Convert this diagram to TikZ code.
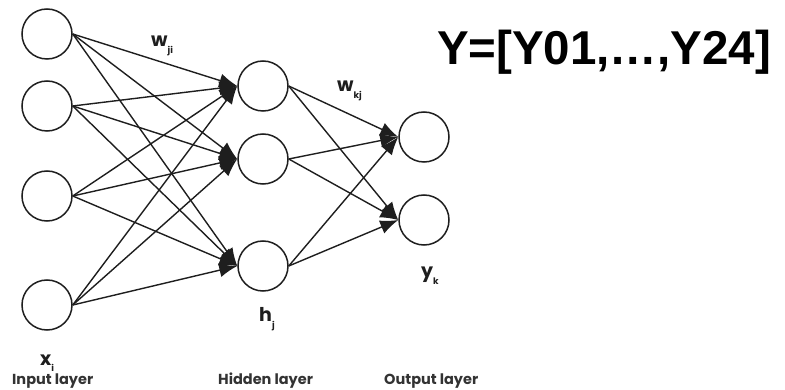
\documentclass[tikz,border=0pt]{standalone}
\usepackage{fontspec}
\setmainfont{Liberation Sans}
\newfontfamily\popfont{Poppins}
\usetikzlibrary{arrows.meta}
\definecolor{ink}{HTML}{1E1E1E}
\definecolor{labgray}{HTML}{333333}
\newcommand{\varlab}[2]{#1\raisebox{-0.32em}{\fontsize{9}{10}\selectfont #2}}
\begin{document}
\begin{tikzpicture}[x=1pt,y=-1pt,
  neuron/.style={circle,draw=ink,line width=1.5pt,minimum size=50pt,inner sep=0pt,fill=white},
  conn/.style={draw=ink,line width=1.4pt,-{Latex[length=18pt,width=14pt]}},
  varlabel/.style={anchor=base west,inner sep=0pt,text=ink,font=\popfont\bfseries\fontsize{19}{21}\selectfont},
  layerlabel/.style={anchor=base west,inner sep=0pt,text=labgray,font=\popfont\bfseries\fontsize{14.5}{16}\selectfont},
  bigtext/.style={anchor=base,inner sep=0pt,text=black,font=\bfseries\fontsize{47.5}{50}\selectfont}]
\useasboundingbox (0,0) rectangle (785,390);
\fill[white] (0,0) rectangle (785,390);
% input layer
\node[neuron] (i1) at (47,34) {};
\node[neuron] (i2) at (47,106) {};
\node[neuron] (i3) at (47,196) {};
\node[neuron] (i4) at (47,305) {};
% hidden layer
\node[neuron] (h1) at (263,86) {};
\node[neuron] (h2) at (263,159) {};
\node[neuron] (h3) at (263,266) {};
% output layer
\node[neuron] (o1) at (424,137) {};
\node[neuron] (o2) at (424,220) {};
% connections
\foreach \a in {i1,i2,i3,i4}
  \foreach \b in {h1,h2,h3}
    \draw[conn] (\a.east) -- (\b.west);
\foreach \a in {h1,h2,h3}
  \foreach \b in {o1,o2}
    \draw[conn] (\a.east) -- (\b.west);
% labels
\node[varlabel] (wji) at (151,47) {\varlab{w}{ji}};
\node[varlabel] (wkj) at (337,92) {\varlab{w}{kj}};
\node[varlabel] (xi) at (40,365) {\varlab{x}{i}};
\node[varlabel] (hj) at (259,322) {\varlab{h}{j}};
\node[varlabel] (yk) at (421,278) {\varlab{y}{k}};
\node[layerlabel] (linput) at (12,384) {Input layer};
\node[layerlabel] (lhidden) at (218,384) {Hidden layer};
\node[layerlabel] (loutput) at (384,384) {Output layer};
\node[bigtext] (ytext) at (604,65) {Y=[Y01,…,Y24]};
\end{tikzpicture}
\end{document}
